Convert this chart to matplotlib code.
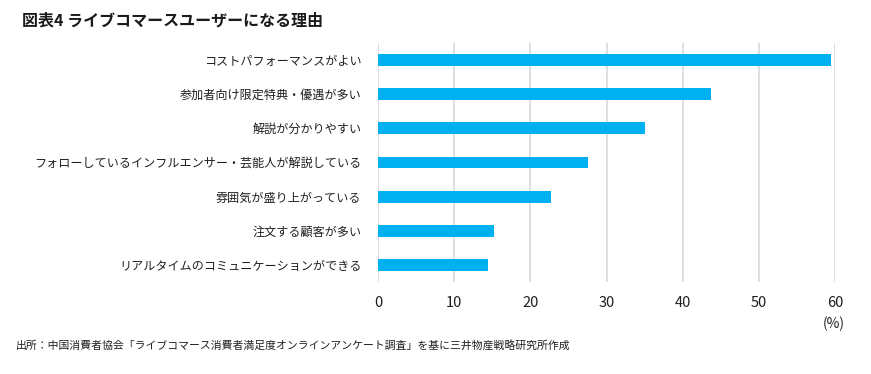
import matplotlib
matplotlib.use("Agg")
import matplotlib.pyplot as plt

plt.rcParams['font.family'] = ['Noto Sans CJK JP', 'DejaVu Sans']

categories = [
    "コストパフォーマンスがよい",
    "参加者向け限定特典・優遇が多い",
    "解説が分かりやすい",
    "フォローしているインフルエンサー・芸能人が解説している",
    "雰囲気が盛り上がっている",
    "注文する顧客が多い",
    "リアルタイムのコミュニケーションができる",
]
values = [59.5, 43.7, 35.1, 27.6, 22.7, 15.2, 14.4]
xticks = [0, 10, 20, 30, 40, 50, 60]

title = "図表4 ライブコマースユーザーになる理由"
source = "出所：中国消費者協会「ライブコマース消費者満足度オンラインアンケート調査」を基に三井物産戦略研究所作成"

fig = plt.figure(figsize=(8.71, 3.74), dpi=100)
ax = fig.add_axes([378/871, 1-282/374, (835-378)/871, (282-43)/374])

ypos = list(range(len(categories)))
ax.barh(ypos, values, height=0.35, color='#00B0F0', zorder=3)
ax.set_ylim(len(categories)-0.5, -0.5)
ax.set_xlim(0, 60)
ax.set_xticks(xticks)
ax.set_xticklabels([str(t) for t in xticks], fontsize=10.5, color='#1f1f1f')
ax.set_yticks(ypos)
ax.set_yticklabels(categories, fontsize=8.7, color='#1f1f1f')
ax.tick_params(axis='both', length=0)
ax.tick_params(axis='x', pad=10)
ax.tick_params(axis='y', pad=12)
ax.grid(axis='x', color='#D9D9D9', linewidth=1.2, zorder=0)
for s in ax.spines.values():
    s.set_visible(False)

fig.text(22/871, 1-20/374, title, fontsize=11.5, fontweight='bold', va='center', ha='left', color='#1a1a1a')
fig.text(834/871, 1-324/374, "(%)", fontsize=10, va='center', ha='center', color='#1f1f1f')
fig.text(16/871, 1-345/374, source, fontsize=7.8, va='center', ha='left', color='#1f1f1f')

fig.savefig("out.png", dpi=100)
